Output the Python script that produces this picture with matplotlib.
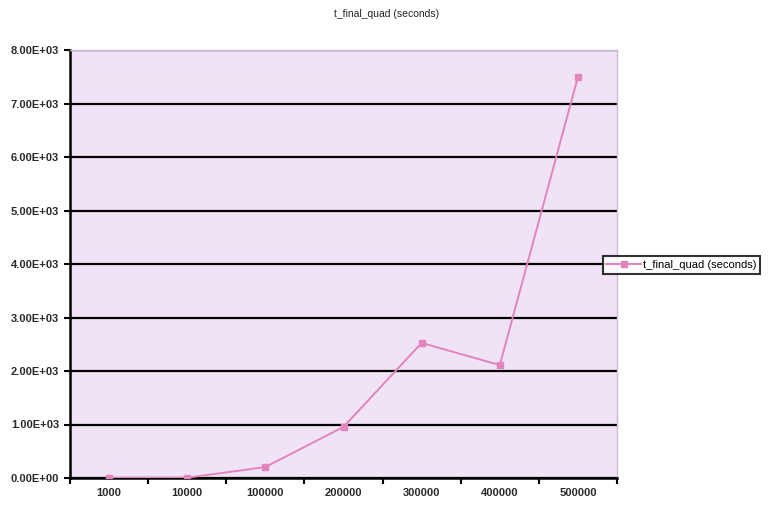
import numpy as np
import matplotlib.pyplot as plt
from matplotlib.ticker import FixedLocator, FuncFormatter

plt.rcParams['font.family'] = ['Liberation Sans', 'DejaVu Sans']

sizes = ['1000', '10000', '100000', '200000', '300000', '400000', '500000']
t_final_quad = [2, 5, 205, 955, 2525, 2110, 7495]
series_name = 't_final_quad (seconds)'

fig = plt.figure(figsize=(7.74, 5.07), dpi=100)
ax = fig.add_axes([70 / 774, 1 - 478 / 507, 547 / 774, 428 / 507])
ax.set_facecolor('#efe3f5')

x = np.arange(len(sizes))
ax.plot(x, t_final_quad, color='#e384bd', linewidth=1.4, marker='s',
        markersize=5, markerfacecolor='#e384bd', markeredgecolor='#e384bd',
        label=series_name, zorder=3)

ax.set_xlim(-0.5, len(sizes) - 0.5)
ax.set_ylim(0, 8000)
ax.set_yticks(np.arange(0, 8001, 1000))
ax.yaxis.set_major_formatter(FuncFormatter(lambda v, p: f'{v:.2E}'))
ax.yaxis.grid(True, color='black', linewidth=1.6)
ax.set_axisbelow(True)

# category labels centred, tick marks between categories
ax.xaxis.set_major_locator(FixedLocator(np.arange(-0.5, len(sizes), 1)))
ax.xaxis.set_minor_locator(FixedLocator(x))
ax.set_xticklabels([''] * (len(sizes) + 1))
ax.set_xticklabels(sizes, minor=True)
ax.tick_params(axis='x', which='minor', length=0, pad=7, labelsize=8)
ax.tick_params(axis='x', which='major', length=4, width=1.5, direction='out')
ax.tick_params(axis='y', length=4, width=1.5, direction='out', labelsize=8, pad=4)
for lbl in ax.get_xticklabels(minor=True) + ax.get_yticklabels():
    lbl.set_fontweight('bold')
    lbl.set_color('#2a2a2a')

for side in ['left', 'bottom']:
    ax.spines[side].set_color('black')
    ax.spines[side].set_linewidth(1.8)
for side in ['top', 'right']:
    ax.spines[side].set_color('#cbb8d8')
    ax.spines[side].set_linewidth(1.0)

fig.text(0.5, 1 - 14 / 507, series_name, ha='center', va='center',
         fontsize=7.5, color='#222222')

leg = ax.legend(loc='center left', bbox_to_anchor=(0.965, 0.498),
                frameon=True, fancybox=False, fontsize=8, handlelength=3,
                borderpad=0.35, handletextpad=0.2)
leg.get_frame().set_edgecolor('black')
leg.get_frame().set_linewidth(1.5)

fig.savefig('out.png', dpi=100, facecolor='white')
